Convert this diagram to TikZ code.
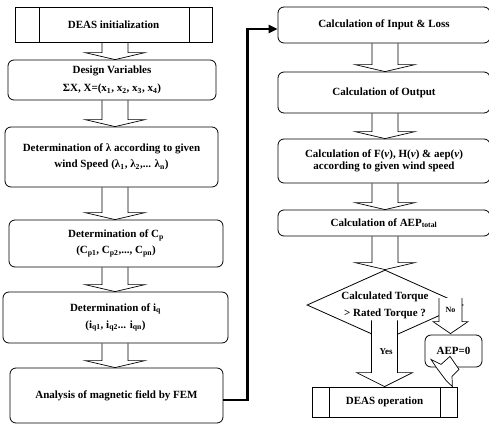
\documentclass[tikz,border=0pt]{standalone}
\usepackage{fontspec}
\setmainfont{Liberation Serif}
\usetikzlibrary{shapes.geometric,arrows.meta,calc}
\newcommand{\blockarr}[3]{%
  \draw[barrow] let \p1=(#1.south), \p2=(#2.north), \p3=(#3) in
    (\x3-13pt,\y1) -- (\x3-13pt,\y2+7pt) -- (\x3-30pt,\y2+7pt) -- (\x3,\y2)
    -- (\x3+30pt,\y2+7pt) -- (\x3+13pt,\y2+7pt) -- (\x3+13pt,\y1);}
\begin{document}
\begin{tikzpicture}[x=1pt,y=-1pt,
  txt/.style={font=\bfseries\fontsize{11}{13}\selectfont, align=center},
  box/.style={txt, draw, line width=0.8pt, rounded corners=6pt, inner sep=0pt},
  proc/.style={txt, draw, line width=0.8pt, inner sep=0pt},
  barrow/.style={draw, line width=0.7pt, line join=miter},
  conn/.style={line width=2.2pt, -{Triangle[length=9pt,width=8pt]}},
  thin/.style={line width=0.8pt}]
\useasboundingbox (0,0) rectangle (489,428);
\coordinate (lc) at (115,0);
\coordinate (rc) at (385,0);
% left column
\node[proc, minimum width=197pt, minimum height=35pt] (init) at (113.5,24.5) {DEAS initialization};
\draw[thin] ([xshift=25pt]init.north west) -- ([xshift=25pt]init.south west);
\draw[thin] ([xshift=-23pt]init.north east) -- ([xshift=-23pt]init.south east);
\node[box, minimum width=208pt, minimum height=40pt] (dv) at (112,80)
  {Design Variables\\[4.5pt]ΣX, X=(x\textsubscript{1}, x\textsubscript{2}, x\textsubscript{3}, x\textsubscript{4})};
\node[box, minimum width=213pt, minimum height=60pt] (lam) at (111.5,157)
  {Determination of λ according to given\\[3pt]wind Speed (λ\textsubscript{1}, λ\textsubscript{2},... λ\textsubscript{n})};
\node[box, minimum width=214pt, minimum height=47pt] (cp) at (116,243.5)
  {Determination of C\textsubscript{p}\\[3pt](C\textsubscript{p1}, C\textsubscript{p2},..., C\textsubscript{pn})};
\node[box, minimum width=225pt, minimum height=51pt] (iq) at (115.5,317.5)
  {Determination of i\textsubscript{q}\\[4pt](i\textsubscript{q1}, i\textsubscript{q2}... i\textsubscript{qn})};
\node[box, minimum width=213pt, minimum height=55pt] (fem) at (116.5,395.5)
  {Analysis of magnetic field by FEM};
% right column
\node[box, minimum width=212pt, minimum height=36pt] (inl) at (384,25) {Calculation of Input \& Loss};
\node[box, minimum width=212pt, minimum height=41pt] (out) at (384,92.5) {Calculation of Output};
\node[box, minimum width=212pt, minimum height=44pt] (fv) at (384,161)
  {Calculation of F(\textit{v}), H(\textit{v}) \& aep(\textit{v})\\[-1pt]according to given wind speed};
\node[box, minimum width=212pt, minimum height=26pt] (aep) at (384,223) {Calculation of AEP\textsubscript{total}};
\node[txt, draw, line width=0.8pt, diamond, aspect=2.3, inner sep=0pt,
  minimum width=156pt, minimum height=70pt] (dia) at (385,305)
  {Calculated Torque\\[4pt]> Rated Torque ?};
\node[proc, minimum width=145pt, minimum height=30pt] (op) at (384.5,402) {DEAS operation};
\draw[thin] ([xshift=18pt]op.north west) -- ([xshift=18pt]op.south west);
\draw[thin] ([xshift=-17pt]op.north east) -- ([xshift=-17pt]op.south east);
\node[box, minimum width=57pt, minimum height=32pt] (z) at (453.5,351) {AEP=0};
% block arrows
\blockarr{init}{dv}{lc}
\blockarr{dv}{lam}{lc}
\blockarr{lam}{cp}{lc}
\blockarr{cp}{iq}{lc}
\blockarr{iq}{fem}{lc}
\blockarr{inl}{out}{rc}
\blockarr{out}{fv}{rc}
\blockarr{fv}{aep}{rc}
\blockarr{aep}{dia}{rc}
% Yes arrow
\filldraw[barrow, fill=white] let \p1=(dia.south), \p2=(op.north) in
  (\x2-13pt,\y1+20pt) -- (\x2-13pt,\y2+14pt) -- (\x2-28pt,\y2+14pt) -- (\x2,\y2)
  -- (\x2+28pt,\y2+14pt) -- (\x2+13pt,\y2+14pt) -- (\x2+13pt,\y1+20pt);
\node[txt, font=\bfseries\fontsize{9}{11}\selectfont] (yes) at (386,352) {Yes};
% No arrow
\filldraw[barrow, fill=white] let \p1=(dia.east), \p2=(z.north) in
  (\x2-14.5pt,\y1+7pt) -- (\x2-14.5pt,\y2+13pt) -- (\x2-20.5pt,\y2+13pt) -- (\x2-3pt,\y2+1pt)
  -- (\x2+14.5pt,\y2+13pt) -- (\x2+8.5pt,\y2+13pt) -- (\x2+8.5pt,\y1+7pt);
\node[txt, font=\bfseries\fontsize{8}{10}\selectfont] (no) at (450.5,310) {No};
% bent arrow from AEP=0 to DEAS operation
\filldraw[barrow, fill=white] let \p1=(z.south), \p2=(op.north east) in
  (\x1-22.5pt,\y1+8pt) -- (\x1-12.5pt,\y1+3pt) -- (\x1-3.5pt,\y1+11pt) -- (\x1+5.5pt,\y1-2pt)
  -- (\x1-1.5pt,\y1-9pt) -- (\x2-5pt,\y2) -- (\x1-7.5pt,\y1-13pt) -- (\x1-16.5pt,\y1-1pt) -- cycle;
% feedback connector
\draw[conn] ([yshift=-4.5pt]fem.east) -- ++(24,0) |- ([yshift=-4pt]inl.west);
\end{tikzpicture}
\end{document}
